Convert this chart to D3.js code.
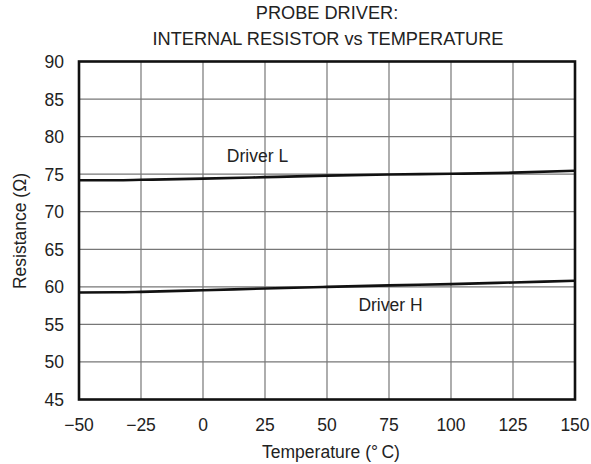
<!DOCTYPE html>
<html>
<head>
<meta charset="utf-8">
<script src="https://cdnjs.cloudflare.com/ajax/libs/d3/7.8.5/d3.min.js"></script>
<style>
  body { margin: 0; background: #fff; }
  text { font-family: "Liberation Sans", Arial, sans-serif; fill: #222; font-size: 17.5px; }
  .title { font-size: 18.2px; }
  .grid line { stroke: #777; stroke-width: 1.2; }
</style>
</head>
<body>
<div id="chart"></div>
<script>

var temps = [-50, -35, -25, 0, 25, 50, 75, 100, 125, 150];
var driverL = [74.2, 74.2, 74.25, 74.4, 74.6, 74.8, 74.95, 75.05, 75.2, 75.45];
var driverH = [59.25, 59.27, 59.33, 59.55, 59.78, 60.0, 60.2, 60.36, 60.58, 60.8];
var xTicks = [-50, -25, 0, 25, 50, 75, 100, 125, 150];
var yTicks = [45, 50, 55, 60, 65, 70, 75, 80, 85, 90];

var margin = { left: 79, right: 16, top: 61.5, bottom: 64.5 };
var width = 591 - margin.left - margin.right;
var height = 464 - margin.top - margin.bottom;

var svg = d3.select("#chart")
    .append("svg")
    .attr("width", 591)
    .attr("height", 464);

var g = svg.append("g")
    .attr("transform", "translate(" + margin.left + "," + margin.top + ")");

var xScale = d3.scaleLinear().domain([-50, 150]).range([0, width]);
var yScale = d3.scaleLinear().domain([45, 90]).range([height, 0]);

// grid
var grid = g.append("g").attr("class", "grid");
grid.selectAll(".vgrid")
    .data(xTicks).enter()
    .append("line")
    .attr("x1", function(d){ return xScale(d) })
    .attr("x2", function(d){ return xScale(d) })
    .attr("y1", 0)
    .attr("y2", height);
grid.selectAll(".hgrid")
    .data(yTicks).enter()
    .append("line")
    .attr("y1", function(d){ return yScale(d) })
    .attr("y2", function(d){ return yScale(d) })
    .attr("x1", 0)
    .attr("x2", width);

// curves
var line = d3.line()
    .x(function(d){ return xScale(d[0]) })
    .y(function(d){ return yScale(d[1]) })
    .curve(d3.curveMonotoneX);

[driverL, driverH].forEach(function(vals){
    g.append("path")
        .datum(temps.map(function(t, i){ return [t, vals[i]] }))
        .attr("d", line)
        .attr("fill", "none")
        .attr("stroke", "#111")
        .attr("stroke-width", 2.6);
});

// frame
g.append("rect")
    .attr("width", width)
    .attr("height", height)
    .attr("fill", "none")
    .attr("stroke", "#111")
    .attr("stroke-width", 2.6);

// tick labels
g.selectAll(".xlab")
    .data(xTicks).enter()
    .append("text")
    .attr("x", function(d){ return xScale(d) })
    .attr("y", height + 31)
    .attr("text-anchor", "middle")
    .text(function(d){ return d < 0 ? "\u2212" + Math.abs(d) : d });

g.selectAll(".ylab")
    .data(yTicks).enter()
    .append("text")
    .attr("x", -15)
    .attr("y", function(d){ return yScale(d) + 6.5 })
    .attr("text-anchor", "end")
    .text(function(d){ return d });

// series labels
g.append("text")
    .attr("x", 257.5 - margin.left)
    .attr("y", yScale(76.6))
    .attr("text-anchor", "middle")
    .text("Driver L");

g.append("text")
    .attr("x", 390.5 - margin.left)
    .attr("y", yScale(56.8))
    .attr("text-anchor", "middle")
    .text("Driver H");

// titles
svg.append("text")
    .attr("class", "title")
    .attr("x", 327)
    .attr("y", 19)
    .attr("text-anchor", "middle")
    .text("PROBE DRIVER:");
svg.append("text")
    .attr("class", "title")
    .attr("x", 328)
    .attr("y", 45)
    .attr("text-anchor", "middle")
    .text("INTERNAL RESISTOR vs TEMPERATURE");

svg.append("text")
    .attr("x", 331)
    .attr("y", 458)
    .attr("text-anchor", "middle")
    .text("Temperature (\u00B0\u2009C)");

svg.append("text")
    .attr("transform", "rotate(-90)")
    .attr("x", -231)
    .attr("y", 26)
    .attr("text-anchor", "middle")
    .text("Resistance (\u03A9)");

</script>
</body>
</html>
